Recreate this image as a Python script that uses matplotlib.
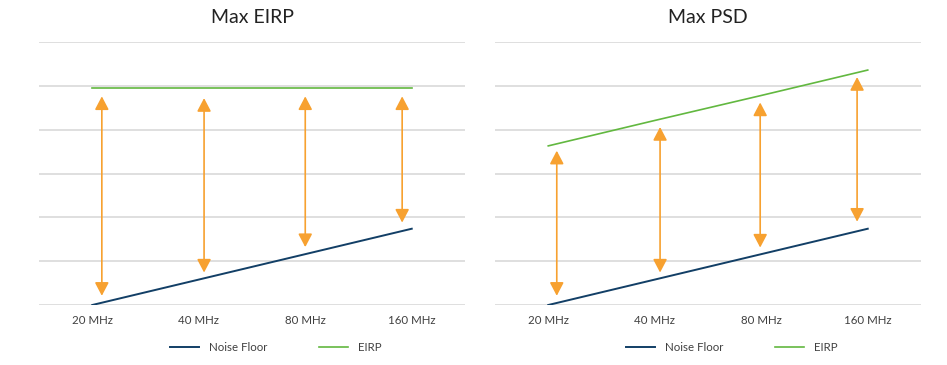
import matplotlib.pyplot as plt

plt.rcParams['font.family'] = ['Lato', 'DejaVu Sans']

# Data
categories = ['20 MHz', '40 MHz', '80 MHz', '160 MHz']
noise_floor = [0.0, 0.58, 1.16, 1.74]
eirp_max_eirp = [4.96, 4.96, 4.96, 4.96]
eirp_max_psd = [3.63, 4.21, 4.78, 5.36]

# arrows (x in category units, top / bottom tips)
eirp_arrow_x = [0.09, 1.05, 2.0, 2.91]
eirp_arrow_top = [4.76, 4.72, 4.76, 4.76]
eirp_arrow_bottom = [0.21, 0.74, 1.32, 1.88]

psd_arrow_x = [0.08, 1.05, 1.99, 2.90]
psd_arrow_top = [3.52, 4.06, 4.62, 5.20]
psd_arrow_bottom = [0.21, 0.74, 1.31, 1.90]

titles = ['Max EIRP', 'Max PSD']

NAVY = '#123f66'
GREEN = '#62b840'
ORANGE = '#f7a130'
GRID = '#d9d9d9'
TXT = '#404040'

fig = plt.figure(figsize=(9.47, 3.65), dpi=100)
ax1 = fig.add_axes([39 / 947, 60 / 365, 426 / 947, 263 / 365])
ax2 = fig.add_axes([495 / 947, 60 / 365, 426 / 947, 263 / 365])

panels = [
    (ax1, eirp_max_eirp, eirp_arrow_x, eirp_arrow_top, eirp_arrow_bottom),
    (ax2, eirp_max_psd, psd_arrow_x, psd_arrow_top, psd_arrow_bottom),
]

x = range(len(categories))
for (ax, eirp, ax_x, ax_top, ax_bot), title in zip(panels, titles):
    ax.plot(x, noise_floor, color=NAVY, lw=1.4, label='Noise Floor', zorder=3)
    ax.plot(x, eirp, color=GREEN, lw=1.2, label='EIRP', zorder=3)
    for xa, t, b in zip(ax_x, ax_top, ax_bot):
        ax.annotate('', xy=(xa, t), xytext=(xa, b),
                    arrowprops=dict(arrowstyle='<|-|>,head_length=0.8,head_width=0.42',
                                    mutation_scale=10, color=ORANGE, lw=1.2,
                                    shrinkA=0, shrinkB=0), zorder=4)
    ax.set_xlim(-0.5, 3.5)
    ax.set_ylim(0, 6)
    ax.set_yticks(range(7))
    ax.set_yticklabels([])
    ax.set_xticks(list(x))
    ax.set_xticklabels(categories, fontsize=8.3, color=TXT)
    ax.tick_params(length=0, pad=7)
    ax.grid(axis='y', color=GRID, lw=1.2)
    ax.set_axisbelow(True)
    for s in ax.spines.values():
        s.set_visible(False)
    ax.set_title(title, fontsize=14, color='#222222', pad=14)
    ax.legend(loc='upper center', bbox_to_anchor=(0.556, -0.1), ncol=2, frameon=False,
              fontsize=8.3, handlelength=2.5, columnspacing=4.5, labelcolor=TXT,
              handletextpad=0.9)

fig.savefig('out.png', dpi=100)
